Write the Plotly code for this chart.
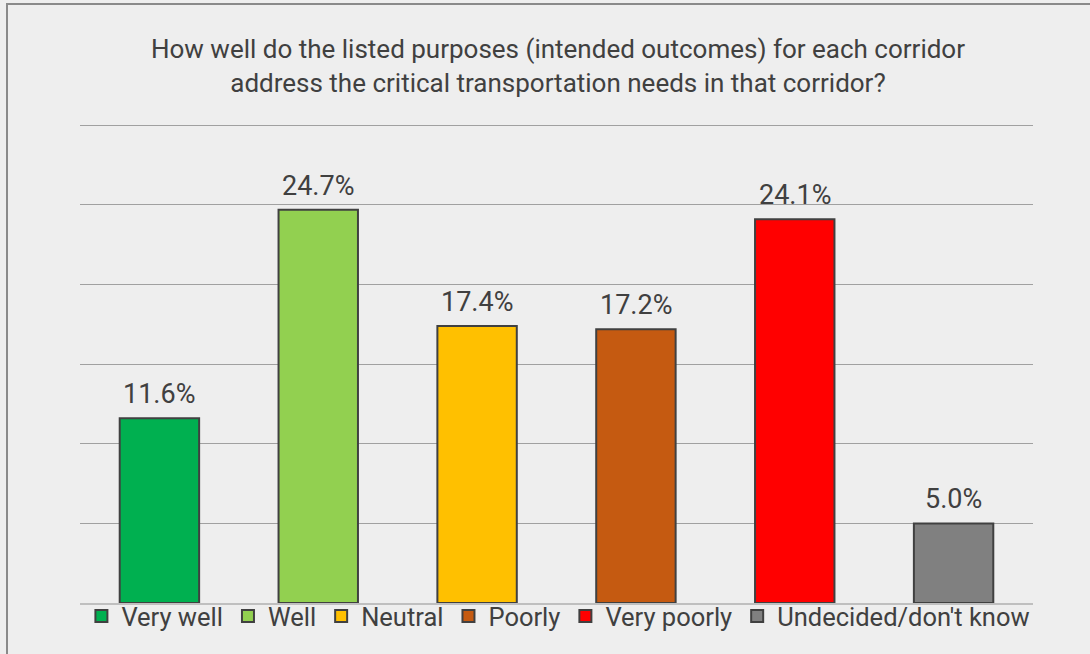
import plotly.graph_objects as go

categories = ["Very well", "Well", "Neutral", "Poorly", "Very poorly", "Undecided/don't know"]
values = [11.6, 24.7, 17.4, 17.2, 24.1, 5.0]
colors = ["#00B050", "#92D050", "#FFC000", "#C55A11", "#FF0000", "#808080"]

title_text = ("How well do the listed purposes (intended outcomes) for each corridor<br>"
              "address the critical transportation needs in that corridor?")

W, H = 1090, 654
ml, mr, mt, mb = 80, 57, 123, 51
YMAX = 30.15

fig = go.Figure()
for cat, val, col in zip(categories, values, colors):
    fig.add_trace(go.Bar(
        x=[cat], y=[val], name=cat,
        marker=dict(color=col, line=dict(color="#404040", width=2)),
        width=0.5,
        cliponaxis=False,
    ))
    fig.add_annotation(x=cat, y=val, xref="x", yref="y", text=f"{val:.1f}%",
                       showarrow=False, yanchor="bottom", yshift=6,
                       font=dict(size=27, color="#404040", family="Roboto"))

pw = W - ml - mr
ph = H - mt - mb
fig.add_shape(type="rect", xref="paper", yref="paper",
              x0=(7 - ml) / pw, x1=(1100 - ml) / pw,
              y0=-(660 - (H - mb)) / ph, y1=((H - mb) - 4) / ph,
              line=dict(color="#8A8A8A", width=2), fillcolor="rgba(0,0,0,0)", layer="below")

fig.update_layout(
    width=W, height=H,
    paper_bgcolor="#EEEEEE", plot_bgcolor="#EEEEEE",
    margin=dict(l=ml, r=mr, t=mt, b=mb, autoexpand=False),
    barmode="overlay",
    font=dict(family="Roboto", color="#404040"),
    title=dict(text=title_text, x=(558) / W, xanchor="center", y=1 - 58 / H, yanchor="middle",
               font=dict(size=26, color="#404040", family="Roboto")),
    showlegend=True,
    legend=dict(orientation="h", x=0.502, xanchor="center",
                y=0.021, yanchor="top",
                font=dict(size=25.5, color="#404040", family="Roboto"),
                bgcolor="rgba(0,0,0,0)", traceorder="normal", itemwidth=30),
    xaxis=dict(showticklabels=False, showgrid=False, showline=True, linecolor="#BFBFBF",
               linewidth=2, ticks="", range=[-0.5, 5.5]),
    yaxis=dict(range=[0, YMAX], tickvals=[5, 10, 15, 20, 25, 30], showticklabels=False,
               showgrid=True, gridcolor="#A0A0A0", gridwidth=1, zeroline=False, ticks="",
               showline=False),
)

fig.write_html("out.html")
